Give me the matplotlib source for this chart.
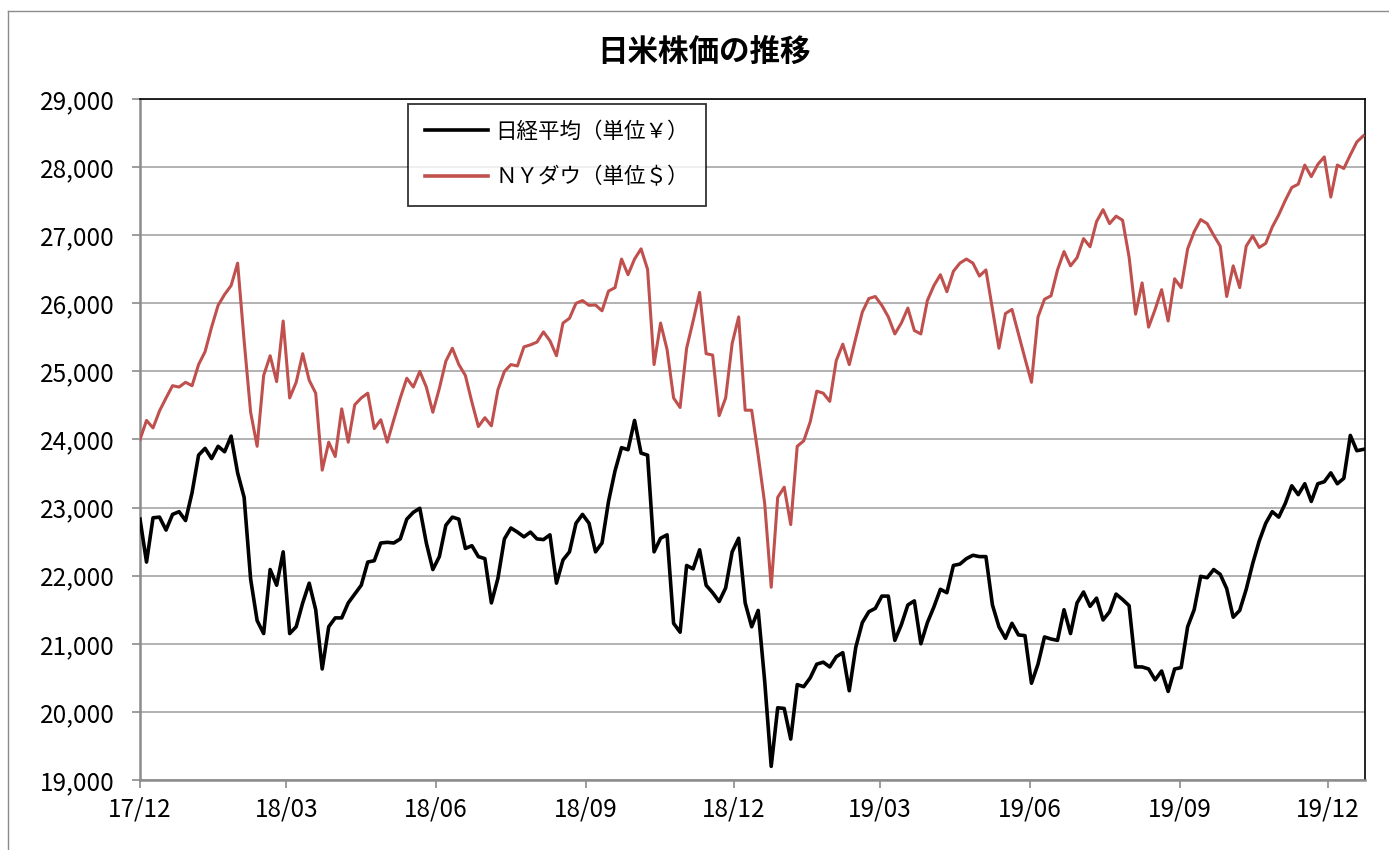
import matplotlib
matplotlib.use("Agg")
import matplotlib.pyplot as plt
from matplotlib.lines import Line2D
from matplotlib.ticker import FuncFormatter
import pandas as pd

# chart theme
chart_theme = {
    "font.family": ["Noto Sans CJK JP", "DejaVu Sans"],
    "axes.grid": False,
    "axes.facecolor": "white",
    "figure.facecolor": "white",
    "xtick.labelsize": 17.5,
    "ytick.labelsize": 17.5,
}
matplotlib.rcParams.update(chart_theme)

# values, one sample every 4 days from 2017-12-01
start_date = "2017-12-01"
step = "4D"

nikkei = [
    22830, 22200, 22850, 22860, 22670, 22900, 22940, 22810, 23220, 23770,
    23870, 23720, 23900, 23820, 24050, 23510, 23150, 21950, 21340, 21150,
    22090, 21860, 22350, 21150, 21250, 21600, 21890, 21500, 20630, 21250,
    21380, 21380, 21600, 21730, 21860, 22200, 22220, 22480, 22490, 22480,
    22540, 22830, 22930, 22990, 22480, 22090, 22280, 22740, 22860, 22830,
    22400, 22440, 22280, 22250, 21600, 21960, 22540, 22700, 22640, 22570,
    22640, 22540, 22530, 22600, 21890, 22230, 22350, 22770, 22900, 22770,
    22350, 22480, 23090, 23540, 23880, 23850, 24280, 23800, 23770, 22350,
    22550, 22600, 21300, 21170, 22150, 22100, 22380, 21860, 21750, 21620,
    21820, 22350, 22550, 21600, 21250, 21490, 20450, 19200, 20060, 20050,
    19600, 20400, 20370, 20500, 20700, 20730, 20660, 20810, 20870, 20310,
    20950, 21310, 21470, 21520, 21700, 21700, 21050, 21280, 21570, 21630,
    21000, 21310, 21540, 21800, 21750, 22150, 22170, 22250, 22300, 22280,
    22280, 21570, 21250, 21080, 21300, 21130, 21120, 20420, 20700, 21100,
    21070, 21050, 21500, 21150, 21600, 21760, 21550, 21670, 21350, 21470,
    21730, 21650, 21560, 20660, 20660, 20630, 20470, 20600, 20300, 20630,
    20650, 21250, 21500, 21990, 21970, 22090, 22020, 21810, 21390, 21490,
    21800, 22180, 22510, 22770, 22940, 22860, 23060, 23320, 23190, 23350,
    23090, 23350, 23380, 23510, 23350, 23430, 24060, 23835, 23855,
]

ny_dow = [
    24000, 24280, 24170, 24420, 24610, 24790, 24770, 24840, 24790, 25100,
    25290, 25650, 25970, 26130, 26260, 26590, 25450, 24400, 23900, 24940,
    25230, 24850, 25740, 24610, 24840, 25260, 24870, 24680, 23550, 23960,
    23750, 24450, 23960, 24510, 24610, 24680, 24160, 24290, 23960, 24290,
    24610, 24900, 24770, 25000, 24770, 24400, 24750, 25150, 25340, 25100,
    24940, 24550, 24190, 24320, 24200, 24730, 25000, 25100, 25080, 25360,
    25390, 25430, 25580, 25450, 25230, 25710, 25780, 26000, 26040, 25970,
    25975, 25890, 26180, 26230, 26650, 26420, 26650, 26800, 26500, 25100,
    25710, 25320, 24610, 24470, 25340, 25740, 26160, 25260, 25240, 24350,
    24610, 25410, 25800, 24430, 24430, 23770, 23060, 21830, 23150, 23300,
    22750, 23900, 23980, 24260, 24710, 24680, 24560, 25160, 25400, 25100,
    25490, 25870, 26070, 26100, 25970, 25800, 25550, 25710, 25930, 25600,
    25550, 26040, 26260, 26420, 26170, 26470, 26590, 26650, 26590, 26400,
    26490, 25910, 25340, 25850, 25910, 25550, 25190, 24840, 25800, 26060,
    26110, 26490, 26760, 26550, 26670, 26950, 26830, 27200, 27375, 27170,
    27280, 27220, 26680, 25840, 26300, 25650, 25910, 26200, 25740, 26360,
    26230, 26800, 27050, 27230, 27170, 27000, 26840, 26100, 26550, 26230,
    26840, 26990, 26820, 26880, 27120, 27300, 27510, 27700, 27750, 28030,
    27860, 28040, 28150, 27560, 28030, 27980, 28180, 28370, 28460,
]

tick_dates = ["2017-12-01", "2018-03-01", "2018-06-01", "2018-09-01", "2018-12-01",
              "2019-03-01", "2019-06-01", "2019-09-01", "2019-12-01"]
tick_labels = ["17/12", "18/03", "18/06", "18/09", "18/12", "19/03", "19/06", "19/09", "19/12"]
y_ticks = [19000, 20000, 21000, 22000, 23000, 24000, 25000, 26000, 27000, 28000, 29000]

title = "日米株価の推移"
label_nikkei = "日経平均（単位￥）"
label_dow = "ＮＹダウ（単位＄）"

dates = pd.date_range(start_date, periods=len(nikkei), freq=step)

fig = plt.figure(figsize=(13.89, 8.5), dpi=100)
ax = fig.add_axes([0.1008, 0.0824, 0.8819, 0.8011])

# chart area border (only left and top edges show in the picture)
border_x = 8 / 1389
border_y = 1 - 11 / 850
fig.lines.append(Line2D([border_x, border_x], [0, border_y], transform=fig.transFigure,
                        color="#8c8c8c", linewidth=1.0))
fig.lines.append(Line2D([border_x, 1], [border_y, border_y], transform=fig.transFigure,
                        color="#8c8c8c", linewidth=1.0))

ax.plot(dates, nikkei, color="black", linewidth=2.6, label=label_nikkei, zorder=3)
ax.plot(dates, ny_dow, color="#C0504D", linewidth=2.2, label=label_dow, zorder=3)

ax.set_ylim(19000, 29000)
ax.set_xlim(pd.Timestamp("2017-12-01"), pd.Timestamp("2019-12-24"))
ax.set_yticks(y_ticks)
ax.yaxis.set_major_formatter(FuncFormatter(lambda v, p: f"{v:,.0f}"))
ax.set_xticks(pd.to_datetime(tick_dates))
ax.set_xticklabels(tick_labels)

ax.grid(axis="y", color="#a6a6a6", linewidth=1.2)
ax.set_axisbelow(True)

for side in ["left", "bottom"]:
    ax.spines[side].set_color("#8c8c8c")
    ax.spines[side].set_linewidth(1.8)
for side in ["top", "right"]:
    ax.spines[side].set_color("black")
    ax.spines[side].set_linewidth(1.2)

ax.tick_params(axis="y", direction="out", length=6, width=1.2, color="#8c8c8c", pad=12)
ax.tick_params(axis="x", direction="out", length=6, width=1.2, color="#8c8c8c", pad=6)

fig.text(0.507, 1 - 52 / 850, title, ha="center", va="center",
         fontsize=22, fontweight="bold")

leg = ax.legend(loc="upper left", bbox_to_anchor=(0.219, 0.993), borderaxespad=0,
                fontsize=15.5, frameon=True, fancybox=False, handlelength=2.9,
                labelspacing=1.1, borderpad=0.8, handletextpad=0.35)
leg.get_frame().set_edgecolor("black")
leg.get_frame().set_linewidth(1.3)
for line in leg.get_lines():
    line.set_linewidth(2.6)

plt.savefig("out.png", dpi=100)
